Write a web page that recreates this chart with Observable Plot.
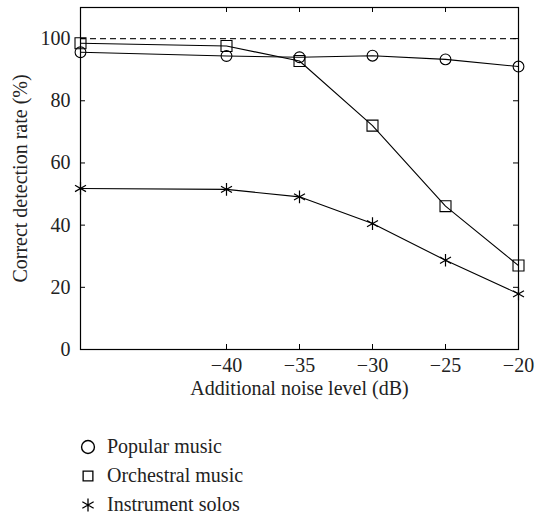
<!DOCTYPE html>
<html>
<head>
<meta charset="utf-8">
<script src="https://cdn.jsdelivr.net/npm/d3@7"></script>
<script src="https://cdn.jsdelivr.net/npm/@observablehq/plot@0.6"></script>
<style>
  body { margin: 0; background: white; font-family: "Liberation Serif", "DejaVu Serif", serif; color: #222; }
  #chart svg, #chart svg text { font-family: "Liberation Serif", "DejaVu Serif", serif !important; }
  #legend { margin-top: 22px; margin-left: 80px; font-size: 20px; }
  .row { display: flex; align-items: center; height: 29px; }
  .row svg { width: 16px; height: 16px; margin-right: 11px; }
</style>
</head>
<body>
<div id="chart"></div>
<div id="legend"></div>
<script>
const noiseLevels = [-50, -40, -35, -30, -25, -20];
const popular = [95.6, 94.4, 94.0, 94.5, 93.3, 91.0];
const orchestral = [98.5, 97.6, 92.8, 72.0, 46.1, 27.0];
const solos = [51.8, 51.5, 49.1, 40.5, 28.7, 17.9];
const seriesNames = ["Popular music", "Orchestral music", "Instrument solos"];
const seriesSymbols = ["circle", "square", "asterisk"];
const xTicks = [-40, -35, -30, -25, -20];
const yTicks = [0, 20, 40, 60, 80, 100];
const referenceLevel = [100];

const seriesValues = [popular, orchestral, solos];
const rows = [];
seriesNames.forEach((name, i) => {
  noiseLevels.forEach((x, j) => rows.push({series: name, x, y: seriesValues[i][j]}));
});

const W = 540, H = 410, mT = 7, mB = 61, mL = 80, mR = 22;
const innerH = H - mT - mB, innerW = W - mL - mR, tick = 5;

const chart = Plot.plot({
  width: W, height: H,
  marginTop: mT, marginBottom: mB, marginLeft: mL, marginRight: mR,
  style: {fontFamily: "'Liberation Serif', 'DejaVu Serif', serif", fontSize: "20px", color: "#222", background: "white", overflow: "visible"},
  x: {domain: [-50, -20]},
  y: {domain: [0, 110]},
  symbol: {domain: seriesNames, range: seriesSymbols},
  marks: [
    Plot.ruleY(referenceLevel, {stroke: "#222", strokeDasharray: "6,4", strokeWidth: 1.3}),
    Plot.tickX(xTicks, {x: d => d, insetTop: innerH - tick, stroke: "black"}),
    Plot.tickX(xTicks, {x: d => d, insetBottom: innerH - tick, stroke: "black"}),
    Plot.tickY(yTicks, {y: d => d, insetRight: innerW - tick, stroke: "black"}),
    Plot.tickY(yTicks, {y: d => d, insetLeft: innerW - tick, stroke: "black"}),
    Plot.line(rows, {x: "x", y: "y", z: "series", stroke: "black", strokeWidth: 1.1}),
    Plot.dot(rows.filter(d => d.series === seriesNames[0]), {x: "x", y: "y", symbol: "series", r: 5.4, stroke: "black", fill: "none", strokeWidth: 1.1}),
    Plot.dot(rows.filter(d => d.series === seriesNames[1]), {x: "x", y: "y", symbol: "series", r: 6.2, stroke: "black", fill: "none", strokeWidth: 1.1}),
    Plot.dot(rows.filter(d => d.series === seriesNames[2]), {x: "x", y: "y", symbol: "series", r: 6, stroke: "black", fill: "none", strokeWidth: 1.2}),
    Plot.frame({stroke: "black", strokeWidth: 1.2}),
    Plot.axisX({ticks: xTicks, tickSize: 0, tickPadding: 8, label: "Additional noise level (dB)", labelAnchor: "center", labelOffset: 45, labelArrow: "none"}),
    Plot.axisY({ticks: yTicks, tickSize: 0, tickPadding: 10, label: "Correct detection rate (%)", labelAnchor: "center", labelOffset: 68, labelArrow: "none"})
  ]
});
document.getElementById("chart").appendChild(chart);

const legend = d3.select("#legend");
seriesNames.forEach((name, i) => {
  const row = legend.append("div").attr("class", "row");
  const svg = row.append("svg").attr("viewBox", "-8 -8 16 16");
  svg.append("path")
    .attr("d", d3.symbol(d3["symbol" + seriesSymbols[i][0].toUpperCase() + seriesSymbols[i].slice(1)], i === 0 ? 130 : i === 1 ? 95 : 120)())
    .attr("fill", "none").attr("stroke", "black").attr("stroke-width", i === 0 ? 1.4 : 1.3);
  row.append("span").text(name);
});
</script>
</body>
</html>
